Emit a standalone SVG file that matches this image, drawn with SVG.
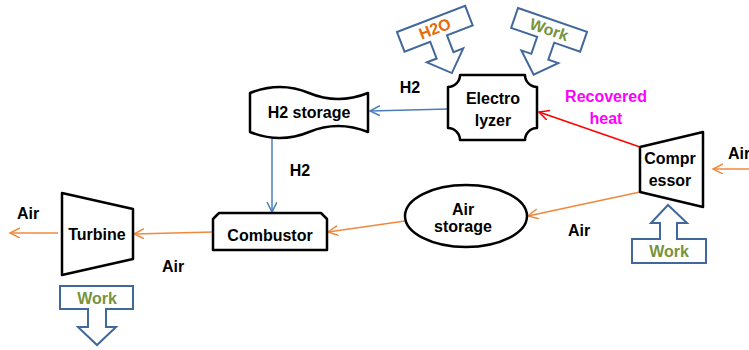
<svg xmlns="http://www.w3.org/2000/svg" width="749" height="350" viewBox="0 0 749 350">
<style>
text{font-family:"Liberation Sans",Arial,sans-serif;font-weight:bold;font-size:16px;text-anchor:middle;fill:#000}
.node{fill:#fff;stroke:#000;stroke-width:2.5;stroke-linejoin:round}
.work{fill:#fff;stroke:#41689A;stroke-width:2;stroke-linejoin:miter}
.blue{stroke:#4A7EBB;stroke-width:1.5;fill:none}
.orange{stroke:#F0883E;stroke-width:1.5;fill:none}
.red{stroke:#FF0000;stroke-width:1.5;fill:none}
.green{fill:#77933C}
.mag{fill:#FF00FF}
</style>
<defs>
<marker id="ab" markerWidth="12" markerHeight="12" refX="10" refY="5" orient="auto" markerUnits="userSpaceOnUse"><path d="M0,0 L10,5 L0,10" fill="none" stroke="#4A7EBB" stroke-width="1.5"/></marker>
<marker id="ao" markerWidth="12" markerHeight="12" refX="10" refY="5" orient="auto" markerUnits="userSpaceOnUse"><path d="M0,0 L10,5 L0,10" fill="none" stroke="#F0883E" stroke-width="1.5"/></marker>
<marker id="ar" markerWidth="12" markerHeight="12" refX="10" refY="5" orient="auto" markerUnits="userSpaceOnUse"><path d="M0,0 L10,5 L0,10" fill="none" stroke="#FF0000" stroke-width="1.5"/></marker>
<path id="downArrow" d="M0,0 H73 V21 H45.5 V39 H56 L36.5,58 L17,39 H27.5 V21 H0 Z"/>
</defs>

<g id="connectors">
<line class="blue" x1="448" y1="109" x2="370" y2="111" marker-end="url(#ab)"/>
<line class="blue" x1="272" y1="133" x2="272" y2="212" marker-end="url(#ab)"/>
<line class="red" x1="640" y1="147" x2="539" y2="112" marker-end="url(#ar)"/>
<line class="orange" x1="749" y1="169" x2="713" y2="169" marker-end="url(#ao)"/>
<line class="orange" x1="640" y1="192" x2="528" y2="216" marker-end="url(#ao)"/>
<line class="orange" x1="405" y1="221" x2="328" y2="232" marker-end="url(#ao)"/>
<line class="orange" x1="213" y1="232" x2="134" y2="234" marker-end="url(#ao)"/>
<line class="orange" x1="58" y1="233" x2="10" y2="233" marker-end="url(#ao)"/>
</g>

<g id="labels">
<text x="410" y="93">H2</text>
<text x="300" y="176">H2</text>
<text x="606" y="102" class="mag">Recovered</text>
<text x="606" y="124" class="mag">heat</text>
<text x="728" y="159" style="text-anchor:start">Air</text>
<text x="579" y="236">Air</text>
<text x="173" y="272">Air</text>
<text x="28" y="219">Air</text>
</g>

<g id="electrolyzer">
<path class="node" d="M460,75 H525 A12,12 0 0 0 537,87 V128 A12,12 0 0 0 525,140 H460 A12,12 0 0 0 448,128 V87 A12,12 0 0 0 460,75 Z"/>
<text x="493" y="104">Electro</text>
<text x="493" y="126">lyzer</text>
</g>

<g id="h2storage">
<path class="node" d="M250,93 C270,85 290,85 309,93 C328,101 348,101 368,93 V132 C348,124 328,124 309,132 C290,140 270,140 250,132 Z"/>
<text x="309" y="118">H2 storage</text>
</g>

<g id="combustor">
<path class="node" d="M219,213 H321 L327,219 V250 H213 V219 Z"/>
<text x="270" y="241">Combustor</text>
</g>

<g id="turbine">
<path class="node" d="M62,193 L133,209 L133,259 L62,275 Z"/>
<text x="97" y="240">Turbine</text>
</g>

<g id="airstorage">
<ellipse class="node" cx="466" cy="216" rx="61" ry="31"/>
<text x="463" y="215">Air</text>
<text x="463" y="232">storage</text>
</g>

<g id="compressor">
<path class="node" d="M640,147 L703,132 L703,207 L640,192 Z"/>
<text x="670" y="164">Compr</text>
<text x="670" y="186">essor</text>
</g>

<g id="h2o-in">
<g transform="translate(397,32) rotate(-21)">
<use href="#downArrow" class="work"/>
<text x="36.5" y="16" style="fill:#E46C0A">H2O</text>
</g>
</g>

<g id="work-electrolyzer">
<g transform="translate(518,8) rotate(19)">
<use href="#downArrow" class="work"/>
<text x="36.5" y="16" class="green">Work</text>
</g>
</g>

<g id="work-compressor">
<path class="work" d="M632,239 H660 V223 H651 L668,205 L687,223 H677 V239 H706 V263 H632 Z"/>
<text x="669" y="257" class="green">Work</text>
</g>

<g id="work-turbine">
<path class="work" d="M60,286 H133 V309 H106 V327 H116 L97,345 L78,327 H88 V309 H60 Z"/>
<text x="97" y="304" class="green">Work</text>
</g>
</svg>
